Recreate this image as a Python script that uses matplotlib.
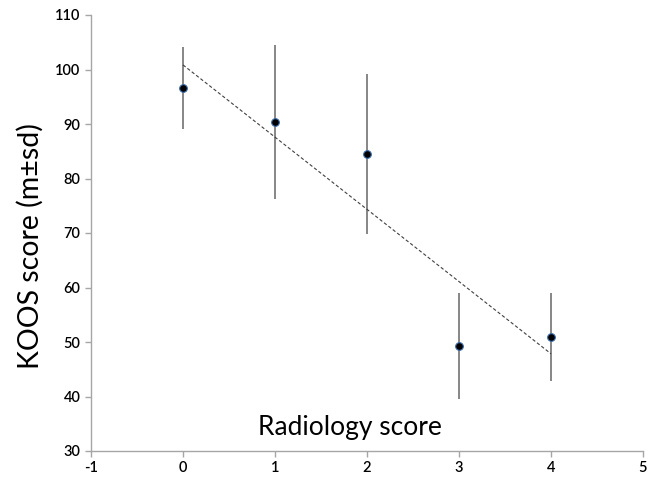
import numpy as np
import matplotlib
matplotlib.use("Agg")
import matplotlib.pyplot as plt

plt.rcParams['font.family'] = ['Lato', 'DejaVu Sans']
plt.rcParams['axes.unicode_minus'] = False

radiology = [0, 1, 2, 3, 4]
koos_mean = [96.6, 90.4, 84.5, 49.3, 50.9]
koos_sd = [7.6, 14.1, 14.7, 9.7, 8.0]

# linear trend of the means
slope, icept = np.polyfit(radiology, koos_mean, 1)
trend_x = np.array([radiology[0], radiology[-1]])
trend_y = slope * trend_x + icept

fig = plt.figure(figsize=(6.56, 4.78), dpi=100)
ax = fig.add_axes([91/656, 27/478, 552/656, 436/478])

ax.errorbar(radiology, koos_mean, yerr=koos_sd, fmt='none',
            ecolor='#666666', elinewidth=1.1, capsize=0, zorder=2)
ax.plot(trend_x, trend_y, color='#404040', linestyle=(0, (3, 2)),
        linewidth=0.8, zorder=3)
ax.plot(radiology, koos_mean, 'o', color='black', markeredgecolor='#3a6aa8',
        markeredgewidth=0.8, markersize=5.5, zorder=4)

ax.set_xlim(-1, 5)
ax.set_ylim(30, 110)
ax.set_xticks(range(-1, 6))
ax.set_yticks(range(30, 111, 10))

for s in ['top', 'right']:
    ax.spines[s].set_visible(False)
for s in ['left', 'bottom']:
    ax.spines[s].set_color('#a6a6a6')
    ax.spines[s].set_linewidth(1.0)
ax.tick_params(axis='both', colors='#a6a6a6', length=4, width=1.0,
               labelcolor='black', labelsize=10.5)
for lab in ax.get_xticklabels() + ax.get_yticklabels():
    lab.set_fontweight('semibold')

ax.set_xlabel("Radiology score", fontsize=19, va='center')
ax.xaxis.set_label_coords(0.469, 0.053)
ax.set_ylabel("KOOS score (m±sd)", fontsize=20.5, va='center')
ax.yaxis.set_label_coords(-0.11, 0.47)

fig.savefig("out.png", dpi=100)
